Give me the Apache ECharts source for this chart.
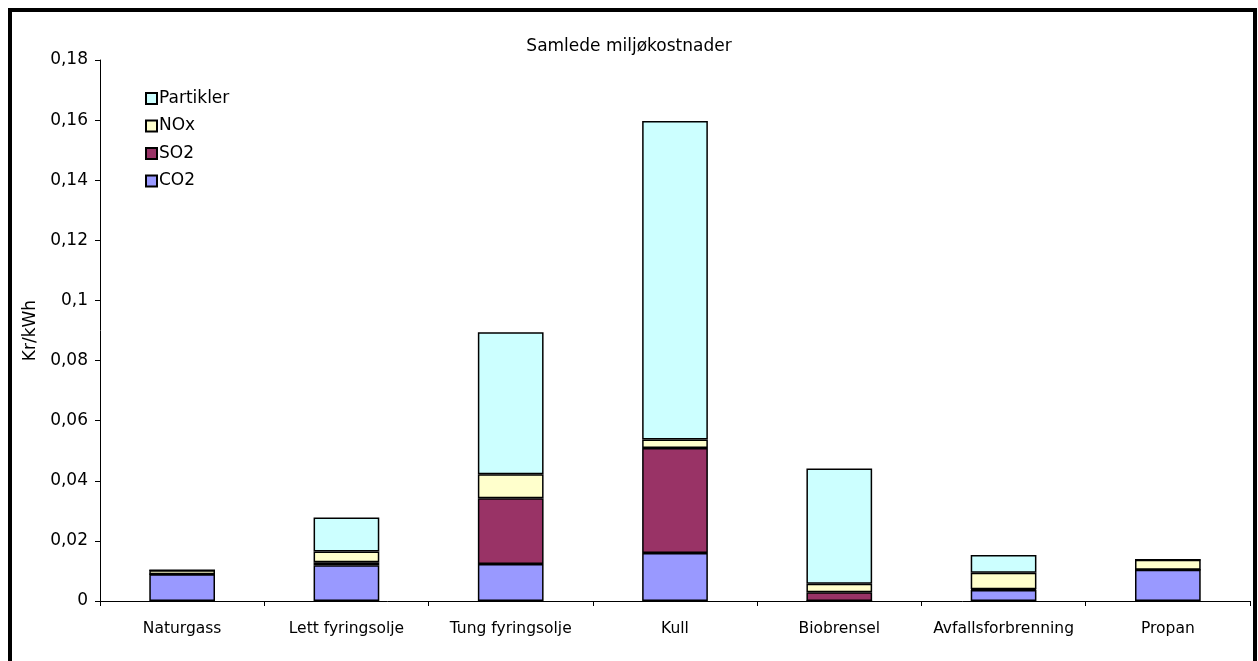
<!DOCTYPE html>
<html>
<head>
<meta charset="utf-8">
<script src="https://cdn.jsdelivr.net/npm/echarts@6/dist/echarts.min.js"></script>
<style>html,body{margin:0;padding:0;background:#fff;}#c{width:1258px;height:661px;}</style>
</head>
<body>
<div id="c"></div>
<script>
var categories = ['Naturgass', 'Lett fyringsolje', 'Tung fyringsolje', 'Kull', 'Biobrensel', 'Avfallsforbrenning', 'Propan'];
var co2 = [0.0089, 0.0119, 0.0123, 0.0160, 0.0000, 0.0037, 0.0104];
var so2 = [0.0000, 0.0010, 0.0219, 0.0349, 0.0029, 0.0002, 0.0000];
var nox = [0.0013, 0.0036, 0.0080, 0.0028, 0.0028, 0.0055, 0.0033];
var partikler = [0.0000, 0.0113, 0.0472, 0.1060, 0.0384, 0.0059, 0.0000];
var yTicks = {min: 0, max: 0.18, interval: 0.02};

var font = 'DejaVu Sans, sans-serif';
var chart = echarts.init(document.getElementById('c'));
function mk(name, data, color) {
  return {
    name: name, type: 'bar', stack: 'total', data: data, barWidth: '40%',
    itemStyle: {color: color, borderColor: '#000', borderWidth: 1.5},
    emphasis: {disabled: true}
  };
}
chart.setOption({
  animation: false,
  backgroundColor: '#fff',
  title: {text: 'Samlede miljøkostnader', left: 'center', top: 33,
    textStyle: {fontFamily: font, fontSize: 17, fontWeight: 'normal', color: '#000'}},
  legend: {
    orient: 'vertical', left: 140, top: 85, itemGap: 10.5, itemWidth: 11, itemHeight: 11,
    data: ['Partikler', 'NOx', 'SO2', 'CO2'],
    textStyle: {fontFamily: font, fontSize: 17, color: '#000', padding: [0, 0, 0, -3]},
    icon: 'rect'
  },
  grid: {left: 100, right: 8, top: 60, bottom: 60},
  xAxis: {
    type: 'category', data: categories,
    axisLine: {lineStyle: {color: '#000', width: 1}},
    axisTick: {show: true, alignWithLabel: false, length: 5, lineStyle: {color: '#000'}},
    axisLabel: {fontFamily: font, fontSize: 15.5, color: '#000', margin: 20, interval: 0}
  },
  yAxis: {
    type: 'value', min: yTicks.min, max: yTicks.max, interval: yTicks.interval,
    name: 'Kr/kWh', nameLocation: 'middle', nameGap: 55, nameRotate: 90,
    nameTextStyle: {fontFamily: font, fontSize: 17, color: '#000'},
    axisLine: {show: true, lineStyle: {color: '#000', width: 1}},
    axisTick: {show: true, length: 5, lineStyle: {color: '#000'}},
    splitLine: {show: false},
    axisLabel: {fontFamily: font, fontSize: 17, color: '#000', margin: 12,
      formatter: function (v) { return String(+v.toFixed(2)).replace('.', ','); }}
  },
  graphic: [{type: 'rect', shape: {x: 10, y: 10, width: 1245, height: 700},
    style: {fill: 'none', stroke: '#000', lineWidth: 4}, silent: true}],
  series: [
    mk('CO2', co2, '#9999FF'),
    mk('SO2', so2, '#993366'),
    mk('NOx', nox, '#FFFFCC'),
    mk('Partikler', partikler, '#CCFFFF')
  ]
});
</script>
</body>
</html>
